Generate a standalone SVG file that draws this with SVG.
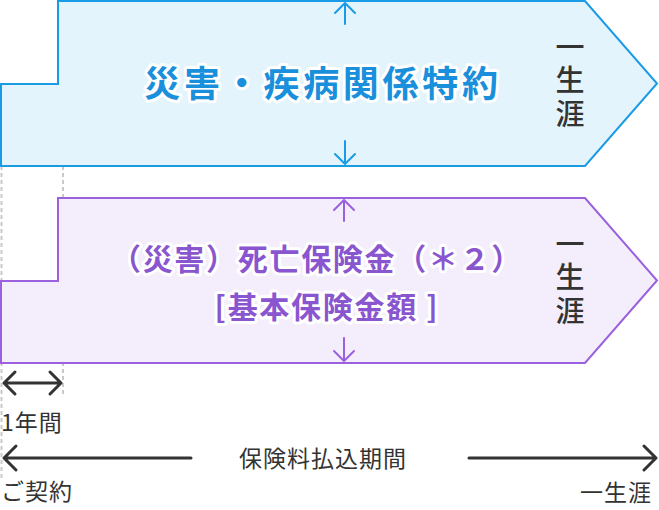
<svg xmlns="http://www.w3.org/2000/svg" width="659" height="510" viewBox="0 0 659 510">
<defs>
<style>
.dash{stroke:#c9c9c9;stroke-width:2;stroke-dasharray:4 3;fill:none}
.blueBox{fill:#e3f4fd;stroke:#1a9be6;stroke-width:2}
.purpleBox{fill:#f4eefc;stroke:#9a60dd;stroke-width:2}
.title{font-family:"Noto Sans CJK JP","Noto Sans",sans-serif;font-weight:700;text-anchor:middle;stroke:#fff;stroke-width:6;stroke-linejoin:round;paint-order:stroke}
.blueT{fill:#1a90dc;font-size:36px;letter-spacing:3.7px}
.purpleT{fill:#8a56cf;font-size:30px;letter-spacing:1.7px}
.vert{font-family:"Noto Sans CJK JP","Noto Sans",sans-serif;font-size:29px;font-weight:500;fill:#333;writing-mode:vertical-rl;letter-spacing:4.5px}
.lbl{font-family:"Noto Sans CJK JP","Noto Sans",sans-serif;font-size:23px;fill:#333;letter-spacing:1px}
.arB{stroke:#1a9be6;stroke-width:2;fill:none;stroke-linecap:round;stroke-linejoin:round}
.arP{stroke:#9a60dd;stroke-width:2;fill:none;stroke-linecap:round;stroke-linejoin:round}
.arK{stroke:#333;stroke-width:3;fill:none;stroke-linecap:round;stroke-linejoin:round}
</style>
</defs>
<g id="guides">
<line class="dash" x1="1.5" y1="166" x2="1.5" y2="478"/>
<line class="dash" x1="63" y1="166" x2="63" y2="397"/>
</g>
<g id="node-rider">
<path class="blueBox" d="M58,1 H585 L657,83.5 L585,166 H1 V84 H58 Z"/>
<text class="title blueT" x="323" y="97">災害・疾病関係特約</text>
<text class="vert" x="570" y="32">一生涯</text>
</g>
<g id="node-death">
<path class="purpleBox" d="M58,198 H585 L657,280.5 L585,363 H1 V281 H58 Z"/>
<text class="title purpleT" x="317" y="270">（災害）死亡保険金（＊２）</text>
<text class="title purpleT" x="327" y="318" font-size="31">[基本保険金額 ]</text>
<text class="vert" x="570" y="229">一生涯</text>
</g>
<g id="connectors">
<path class="arB" d="M345,24 V3 M335,13 L345,3 L355,13"/>
<path class="arB" d="M345,141 V164 M335,154 L345,164 L355,154"/>
<path class="arP" d="M344,221 V200 M334,210 L344,200 L354,210"/>
<path class="arP" d="M344,338 V361 M334,351 L344,361 L354,351"/>
<path class="arK" d="M4,383 H61 M15,372 L4,383 L15,394 M50,372 L61,383 L50,394" stroke-width="2.5"/>
<path class="arK" d="M4,458 H191 M16,446 L4,458 L16,470"/>
<path class="arK" d="M469,458 H656 M644,446 L656,458 L644,470"/>
</g>
<g id="labels">
<text class="lbl" x="1" y="431">1年間</text>
<text class="lbl" x="323" y="467" text-anchor="middle">保険料払込期間</text>
<text class="lbl" x="1" y="500">ご契約</text>
<text class="lbl" x="652" y="501" text-anchor="end">一生涯</text>
</g>
</svg>
